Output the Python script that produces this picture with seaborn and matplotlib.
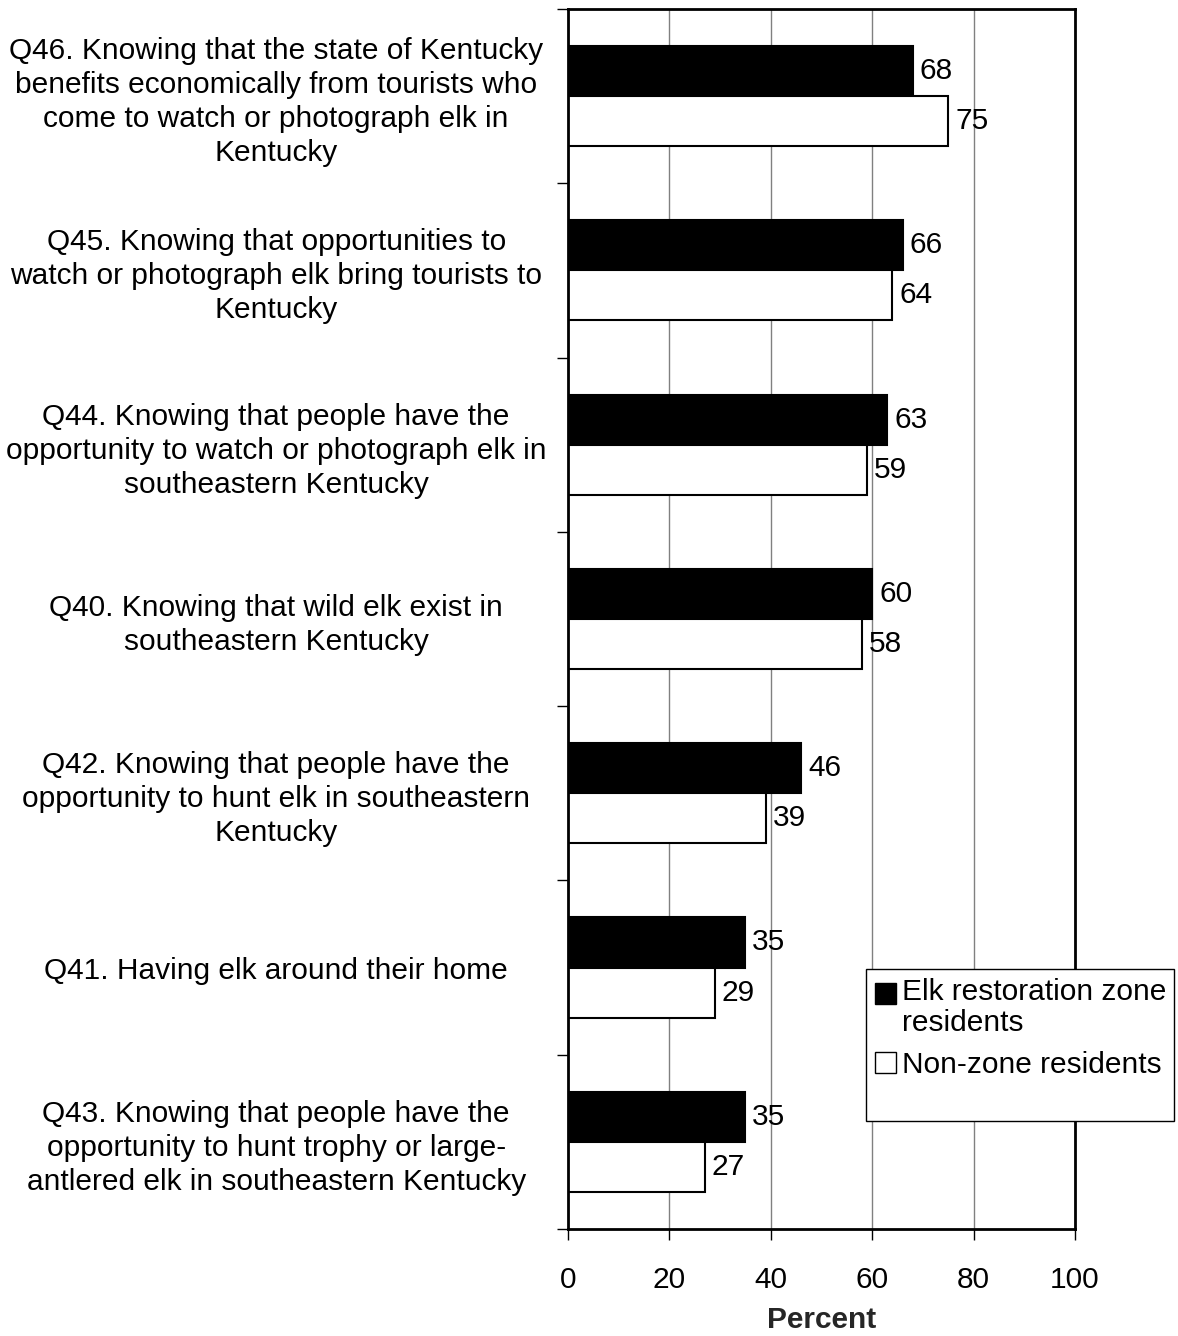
import pandas as pd
import numpy as np
import matplotlib.pyplot as plt
import seaborn as sns
from matplotlib.patches import Patch, Rectangle
from matplotlib.legend_handler import HandlerPatch

# data
questions = [
    "Q46. Knowing that the state of Kentucky\nbenefits economically from tourists who\ncome to watch or photograph elk in\nKentucky",
    "Q45. Knowing that opportunities to\nwatch or photograph elk bring tourists to\nKentucky",
    "Q44. Knowing that people have the\nopportunity to watch or photograph elk in\nsoutheastern Kentucky",
    "Q40. Knowing that wild elk exist in\nsoutheastern Kentucky",
    "Q42. Knowing that people have the\nopportunity to hunt elk in southeastern\nKentucky",
    "Q41. Having elk around their home",
    "Q43. Knowing that people have the\nopportunity to hunt trophy or large-\nantlered elk in southeastern Kentucky",
]
zone = [68, 66, 63, 60, 46, 35, 35]
nonzone = [75, 64, 59, 58, 39, 29, 27]
groups = ["Elk restoration zone\nresidents", "Non-zone residents"]

df = pd.DataFrame({
    "question": questions * 2,
    "pct": zone + nonzone,
    "group": [groups[0]] * len(questions) + [groups[1]] * len(questions),
})

sns.set_style("white")
plt.rcParams['font.family'] = ['Liberation Sans', 'DejaVu Sans']
plt.rcParams['text.color'] = 'black'
plt.rcParams['xtick.color'] = 'black'
plt.rcParams['ytick.color'] = 'black'
fs = 21.5

fig = plt.figure(figsize=(11.78, 13.36), dpi=100)
ax = fig.add_axes([0.482, 0.0801, 0.4306, 0.9132])

sns.barplot(data=df, y="question", x="pct", hue="group", orient="h",
            palette=["black", "white"], edgecolor="black", linewidth=1.5,
            width=0.575, ax=ax, legend=False)

for cont in ax.containers:
    ax.bar_label(cont, labels=[f"{v:.0f}" for v in cont.datavalues],
                 padding=5, fontsize=fs)

ax.set_xlim(0, 100)
ax.set_ylim(len(questions) - 0.5, -0.5)
ax.set_xticks([0, 20, 40, 60, 80, 100])
ax.xaxis.grid(True, color="#808080", linewidth=1)
ax.set_axisbelow(True)
ax.tick_params(axis="x", direction="out", length=8, width=1, labelsize=fs,
               pad=19, bottom=True)

ax.set_yticks(range(len(questions)))
ax.set_yticklabels(questions, ha="center", multialignment="center",
                   linespacing=1.27)
ax.tick_params(axis="y", which="major", length=0, labelsize=fs, pad=210)
ax.set_yticks(np.arange(-0.5, len(questions)), minor=True)
ax.tick_params(axis="y", which="minor", direction="out", length=8, width=1, left=True)

for s in ax.spines.values():
    s.set_visible(True)
    s.set_color("black")
    s.set_linewidth(2)

ax.set_ylabel("")
ax.set_xlabel("Percent", fontsize=fs, fontweight="bold", labelpad=8)


# legend: square handle sits on the first text line
def top_square(legend, orig_handle, xdescent, ydescent, width, height, fontsize):
    return Rectangle((-xdescent, -ydescent + 0.5 * fontsize), width, height)


def plain_square(legend, orig_handle, xdescent, ydescent, width, height, fontsize):
    return Rectangle((-xdescent, -ydescent), width, height)


h_zone = Patch(facecolor="black", edgecolor="black", label=groups[0])
h_non = Patch(facecolor="white", edgecolor="black", label=groups[1])
leg = fig.legend(handles=[h_zone, h_non], loc="upper left",
                 bbox_to_anchor=(866 / 1178, 1 - 969 / 1336),
                 fontsize=fs, frameon=False, handlelength=0.7, handleheight=0.7,
                 handletextpad=0.2, borderpad=0.3, labelspacing=0.45,
                 borderaxespad=0,
                 handler_map={h_zone: HandlerPatch(patch_func=top_square),
                              h_non: HandlerPatch(patch_func=plain_square)})
for t in leg.get_texts():
    t.set_linespacing(1.15)

# legend box, a bit taller than its entries as in the original
fig.patches.append(Rectangle((866 / 1178, 1 - 1121 / 1336), 308 / 1178, 152 / 1336,
                             transform=fig.transFigure, facecolor="white",
                             edgecolor="black", linewidth=1, zorder=2.5))
leg.set_zorder(3)

fig.savefig("out.png", dpi=100)
